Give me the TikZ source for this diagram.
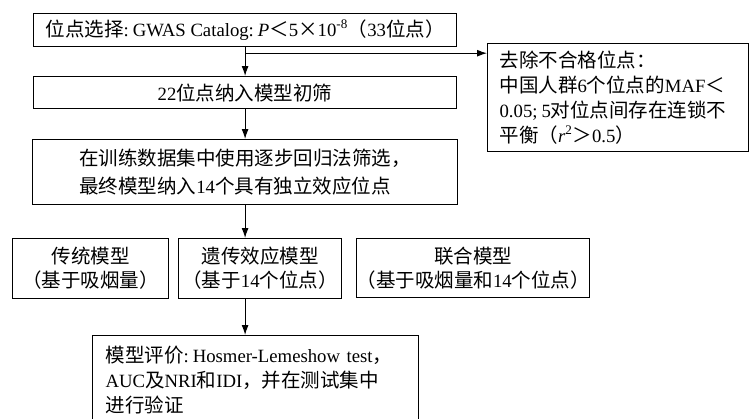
\documentclass[tikz,border=0pt]{standalone}
\usepackage{fontspec}
\setmainfont{Noto Sans CJK SC}
\newfontfamily\latf[Scale=0.96]{Liberation Serif}
\newcommand\en[1]{{\latf #1}}
\newcommand\ncolon{\en{:}\hspace{4pt}}
\usetikzlibrary{arrows.meta}
\begin{document}
\begin{tikzpicture}[x=1pt,y=-1pt,
  box/.style={draw,line width=1.2pt,inner sep=0pt,anchor=north west,
    font=\fontsize{19.5}{25}\selectfont},
  arr/.style={line width=1.1pt,-{Latex[length=10pt,width=7pt]}}]
\useasboundingbox (0,0) rectangle (749,418);
\fill[white] (0,0) rectangle (749,418);

\node[box,minimum width=423pt,minimum height=33pt] (b1) at (33,13)
  {位点选择\ncolon\en{GWAS Catalog}\ncolon\en{\textit{P}}＜\en{5}×\en{10\textsuperscript{-8}}（\en{33}位点）};
\node[box,minimum width=423pt,minimum height=32pt] (b2) at (33,76)
  {\en{22}位点纳入模型初筛};
\node[box,minimum height=108pt,inner xsep=12pt,text width=237pt,align=left] (b3) at (487,43)
  {去除不合格位点：\\中国人群\en{6}个位点的\en{MAF}＜\\\en{0.05;}\hspace{4pt}\en{5}对位点间存在连锁不\\平衡（\en{\textit{r}\textsuperscript{2}}＞\en{0.5}）};
\node[box,minimum width=425pt,minimum height=65pt,align=left,
  font=\fontsize{19.5}{28}\selectfont] (b4) at (32,139)
  {在训练数据集中使用逐步回归法筛选，\\最终模型纳入\en{14}个具有独立效应位点};
\node[box,minimum width=156pt,minimum height=60pt,align=center,
  font=\fontsize{19.5}{24}\selectfont] (b5) at (12,238)
  {传统模型\\（基于吸烟量）};
\node[box,minimum width=163pt,minimum height=60pt,align=center,
  font=\fontsize{19.5}{24}\selectfont] (b6) at (178,238)
  {遗传效应模型\\（基于\en{14}个位点）};
\node[box,minimum width=225pt,minimum height=59pt,align=center,
  font=\fontsize{19.5}{24}\selectfont] (b7) at (356,238)
  {联合模型\\（基于吸烟量和\en{14}个位点）};
\node[box,minimum height=88pt,inner xsep=13pt,text width=300pt,align=left] (b8) at (92,335)
  {模型评价\ncolon\en{Hosmer-Lemeshow test}，\\\en{AUC}及\en{NRI}和\en{IDI}，并在测试集中\\进行验证};

\coordinate (br) at ([yshift=-6pt]b1.south);
\draw[arr] (b1.south) -- (b2.north);
\draw[arr] (br) -- (br -| b3.west);
\draw[arr] (b2.south) -- (b4.north);
\draw[arr] (b4.south) -- (b4.south |- b6.north);
\draw[arr] (b4.south |- b6.south) -- (b4.south |- b8.north);
\end{tikzpicture}
\end{document}
